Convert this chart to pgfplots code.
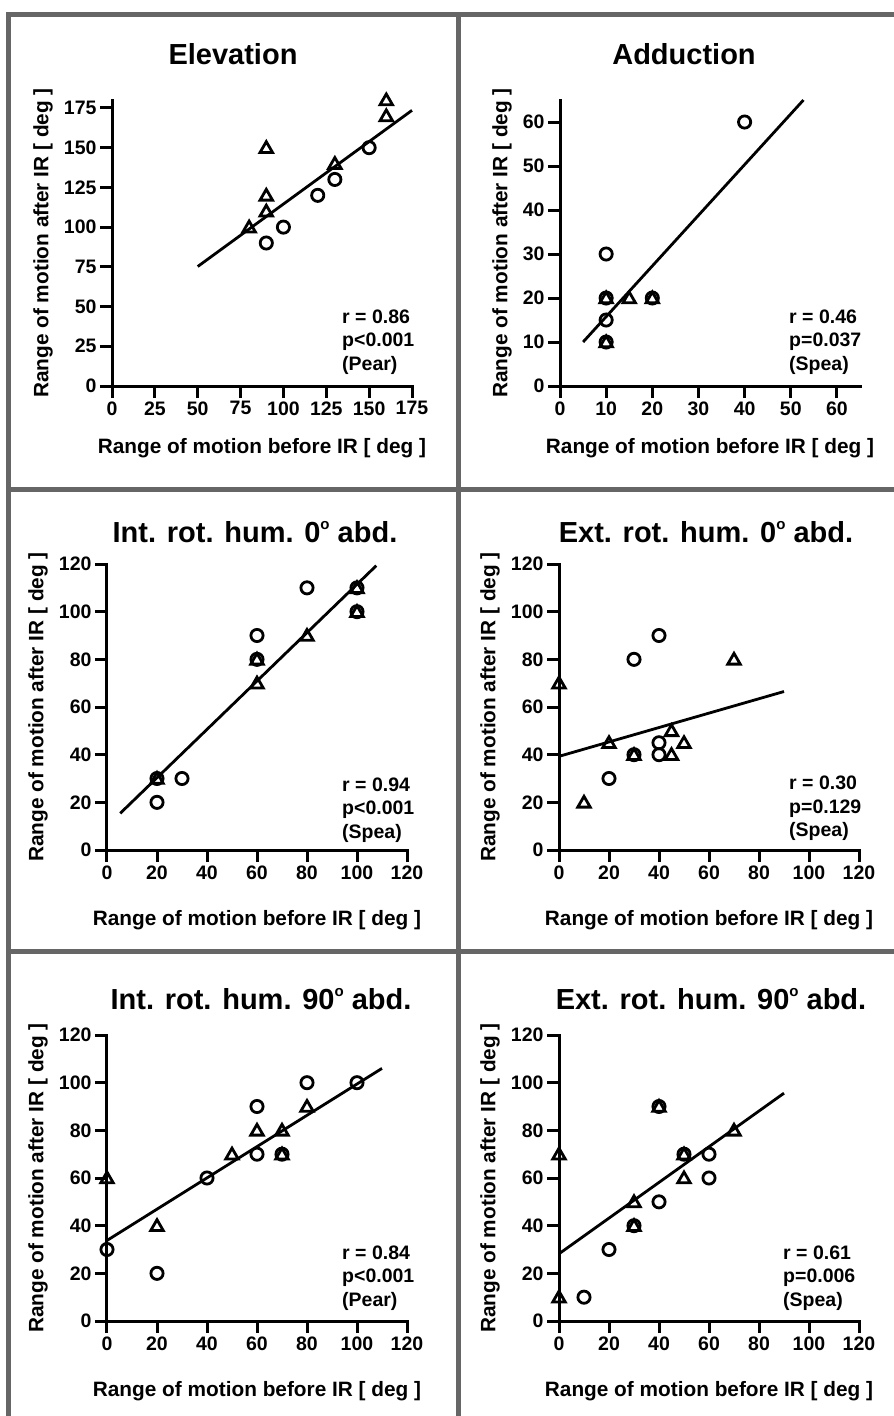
\documentclass[border=0pt]{standalone}
\usepackage{pgfplots}
\pgfplotsset{compat=1.18}
\usepackage{fontspec}
\setmainfont{Liberation Sans}
\definecolor{framegray}{RGB}{102,102,102}

\newcommand{\tfont}{\fontsize{29}{34}\selectfont\bfseries}
\newcommand{\lfont}{\fontsize{20.8}{24}\selectfont\bfseries}
\newcommand{\kfont}{\fontsize{19.5}{22}\selectfont\bfseries}
\newcommand{\dg}{\raisebox{12.3pt}{\fontsize{15}{15}\selectfont o}}

\pgfplotsset{
  romax/.style={
    scale only axis, width=300pt, height=286pt,
    axis lines*=left, xmin=0, ymin=0, clip=false,
    axis line style={line width=3pt, line cap=rect, black},
    tick align=outside, major tick length=12pt,
    tick style={line width=3pt, black},
    tick label style={font=\kfont},
    /pgf/number format/assume math mode=true,
    /pgf/number format/1000 sep={},
    xlabel={Range of motion before IR [ deg ]},
    ylabel={Range of motion after IR [ deg ]},
    label style={font=\lfont},
    xlabel style={at={([yshift=-62pt]axis description cs:0.5,0)}, anchor=center},
    ylabel style={at={([xshift=-69pt]axis description cs:0,0.5)}, anchor=center},
  },
  circ/.style={only marks, mark=o, mark size=6.1pt, mark options={line width=2.8pt, black}},
  tri/.style={only marks, mark=triangle, mark size=7.2pt, mark options={line width=2.8pt, black, yshift=-1.2pt}},
  fit/.style={no marks, line width=2.8pt, black},
}

\begin{document}
\begin{tikzpicture}
\useasboundingbox (0,0) rectangle (894pt,-1416pt);
\fill[white] (0,0) rectangle (894pt,-1416pt);
% frame
\begin{scope}[line width=5pt, framegray]
\draw (6pt,-14.5pt) -- (894pt,-14.5pt);
\draw (8.5pt,-12pt) -- (8.5pt,-1416pt);
\draw (458pt,-12pt) -- (458pt,-1416pt);
\draw (6pt,-489.5pt) -- (894pt,-489.5pt);
\draw (6pt,-951.5pt) -- (894pt,-951.5pt);
\end{scope}

% Panel 1: Elevation
\begin{axis}[romax, at={(112pt,-386pt)}, anchor=south west,
  xmax=175, ymax=180, xtick={0,25,...,175}, ytick={0,25,...,175},
  xlabel style={at={([yshift=-62pt]axis description cs:0.5,0)}}]
\addplot[fit] coordinates {(50,75.2) (175,173.5)};
\addplot[circ] coordinates {(90,90) (100,100) (120,120) (130,130) (150,150)};
\addplot[tri] coordinates {(80,100) (90,110) (90,120) (90,150) (130,140) (160,170) (160,180)};
\end{axis}

% Panel 2: Adduction
\begin{axis}[romax, at={(560pt,-386pt)}, anchor=south west,
  xmax=65, ymax=65, xtick={0,10,...,60}, ytick={0,10,...,60},
  ylabel style={at={([xshift=-58pt]axis description cs:0,0.5)}}]
\addplot[fit] coordinates {(5,10) (52.75,65)};
\addplot[circ] coordinates {(10,10) (10,15) (10,20) (10,30) (20,20) (40,60)};
\addplot[tri] coordinates {(10,10) (10,20) (15,20) (20,20)};
\end{axis}

% Panel 3: Int rot 0
\begin{axis}[romax, at={(107pt,-850pt)}, anchor=south west,
  xmax=120, ymax=120, xtick={0,20,...,120}, ytick={0,20,...,120},
  xlabel style={at={([yshift=-70pt]axis description cs:0.5,0)}}]
\addplot[fit] coordinates {(5.3,15.4) (107.7,119.3)};
\addplot[circ] coordinates {(20,20) (20,30) (30,30) (60,80) (60,90) (80,110) (100,100) (100,110)};
\addplot[tri] coordinates {(20,30) (60,70) (60,80) (80,90) (100,100) (100,110)};
\end{axis}

% Panel 4: Ext rot 0
\begin{axis}[romax, at={(559pt,-850pt)}, anchor=south west,
  xmax=120, ymax=120, xtick={0,20,...,120}, ytick={0,20,...,120},
  xlabel style={at={([yshift=-70pt]axis description cs:0.5,0)}}]
\addplot[fit] coordinates {(0,39.3) (90,66.5)};
\addplot[circ] coordinates {(20,30) (30,40) (30,80) (40,40) (40,45) (40,90)};
\addplot[tri] coordinates {(0,70) (10,20) (20,45) (30,40) (45,40) (45,50) (50,45) (70,80)};
\end{axis}

% Panel 5: Int rot 90
\begin{axis}[romax, at={(107pt,-1321pt)}, anchor=south west,
  xmax=120, ymax=120, xtick={0,20,...,120}, ytick={0,20,...,120},
  xlabel style={at={([yshift=-70pt]axis description cs:0.5,0)}}]
\addplot[fit] coordinates {(0,33.8) (110,106)};
\addplot[circ] coordinates {(0,30) (20,20) (40,60) (60,70) (60,90) (70,70) (80,100) (100,100)};
\addplot[tri] coordinates {(0,60) (20,40) (50,70) (60,80) (70,70) (70,80) (80,90)};
\end{axis}

% Panel 6: Ext rot 90
\begin{axis}[romax, at={(559pt,-1321pt)}, anchor=south west,
  xmax=120, ymax=120, xtick={0,20,...,120}, ytick={0,20,...,120},
  xlabel style={at={([yshift=-70pt]axis description cs:0.5,0)}}]
\addplot[fit] coordinates {(0,28.2) (90,95.6)};
\addplot[circ] coordinates {(10,10) (20,30) (30,40) (40,50) (40,90) (50,70) (60,60) (60,70)};
\addplot[tri] coordinates {(0,10) (0,70) (30,40) (30,50) (40,90) (50,60) (50,70) (70,80)};
\end{axis}

% titles
\node[anchor=base, font=\tfont] at (233pt,-64pt) {Elevation};
\node[anchor=base, font=\tfont] at (684pt,-64pt) {Adduction};
\node[anchor=base, font=\tfont] at (255pt,-542pt) {Int. rot. hum. 0\dg{} abd.};
\node[anchor=base, font=\tfont] at (706pt,-542pt) {Ext. rot. hum. 0\dg{} abd.};
\node[anchor=base, font=\tfont] at (261pt,-1009pt) {Int. rot. hum. 90\dg{} abd.};
\node[anchor=base, font=\tfont] at (711pt,-1009pt) {Ext. rot. hum. 90\dg{} abd.};

% statistics
\begin{scope}[every node/.style={anchor=base west, font=\kfont, inner sep=0pt}]
\node at (342pt,-323pt) {r = 0.86};
\node at (342pt,-346.5pt) {p<0.001};
\node at (342pt,-370pt) {(Pear)};
\node at (789pt,-323pt) {r = 0.46};
\node at (789pt,-346.5pt) {p=0.037};
\node at (789pt,-370pt) {(Spea)};
\node at (342pt,-791pt) {r = 0.94};
\node at (342pt,-814.5pt) {p<0.001};
\node at (342pt,-838pt) {(Spea)};
\node at (789pt,-789.5pt) {r = 0.30};
\node at (789pt,-813pt) {p=0.129};
\node at (789pt,-836.5pt) {(Spea)};
\node at (342pt,-1259pt) {r = 0.84};
\node at (342pt,-1282.5pt) {p<0.001};
\node at (342pt,-1306pt) {(Pear)};
\node at (783pt,-1259pt) {r = 0.61};
\node at (783pt,-1282.5pt) {p=0.006};
\node at (783pt,-1306pt) {(Spea)};
\end{scope}
\end{tikzpicture}
\end{document}
